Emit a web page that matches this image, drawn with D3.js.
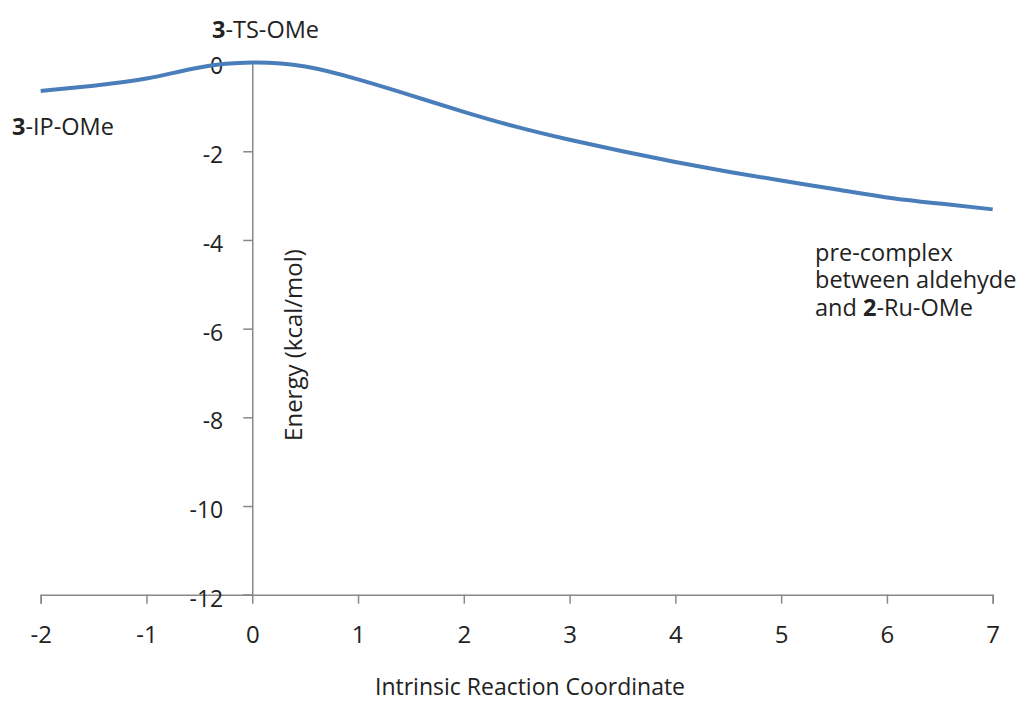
<!DOCTYPE html>
<html>
<head>
<meta charset="utf-8">
<script src="https://cdn.jsdelivr.net/npm/d3@7"></script>
<style>
  html, body { margin: 0; padding: 0; background: #fff; }
  svg { display: block; font-family: "Open Sans", "DejaVu Sans", sans-serif; }
</style>
</head>
<body>
<svg id="chart" width="1028" height="702"></svg>
<script>
// ---- data ----
const irc = [-2, -1.5, -1, -0.5, 0, 0.5, 1, 1.5, 2, 2.5, 3, 3.5, 4, 4.5, 5, 5.5, 6, 6.5, 7];
const energy = [-0.64, -0.52, -0.36, -0.11, 0, -0.09, -0.38, -0.74, -1.11, -1.45, -1.74, -2.0, -2.24, -2.46, -2.66, -2.85, -3.04, -3.18, -3.31];
const xTicks = [-2, -1, 0, 1, 2, 3, 4, 5, 6, 7];
const yTicks = [0, -2, -4, -6, -8, -10, -12];
const xTitle = "Intrinsic Reaction Coordinate";
const yTitle = "Energy (kcal/mol)";

const svg = d3.select("#chart");
const x = d3.scaleLinear().domain([-2, 7]).range([40.7, 992.7]);
const y = d3.scaleLinear().domain([-12, 0]).range([594.7, 62.6]);
const axisColor = "#888888";
const fmt = d => (d < 0 ? "-" : "") + Math.abs(d);

// x axis at y = -12
const gx = svg.append("g")
  .attr("transform", `translate(0,${y(-12)})`)
  .call(d3.axisBottom(x).tickValues(xTicks).tickFormat(fmt).tickSize(9).tickPadding(22));
gx.select(".domain").attr("stroke", axisColor).attr("stroke-width", 1.5);
gx.selectAll(".tick line").attr("stroke", axisColor).attr("stroke-width", 1.5);
gx.selectAll(".tick text").attr("font-size", 24).attr("fill", "#222")
  .attr("font-family", "'Open Sans', sans-serif");

// y axis at x = 0
const gy = svg.append("g")
  .attr("transform", `translate(${x(0)},0)`)
  .call(d3.axisLeft(y).tickValues(yTicks).tickFormat(fmt).tickSize(9).tickPadding(20));
gy.select(".domain").attr("stroke", axisColor).attr("stroke-width", 1.5);
gy.selectAll(".tick line").attr("stroke", axisColor).attr("stroke-width", 1.5);
gy.selectAll(".tick text").attr("font-size", 23).attr("fill", "#222")
  .attr("font-family", "'Open Sans', sans-serif")
  .attr("y", 4);

// curve
const line = d3.line()
  .x((d, i) => x(irc[i]))
  .y(d => y(d))
  .curve(d3.curveNatural);
svg.append("path")
  .datum(energy)
  .attr("d", line)
  .attr("fill", "none")
  .attr("stroke", "#4a7ebb")
  .attr("stroke-width", 4)
  .attr("stroke-linecap", "butt");

// titles
svg.append("text")
  .attr("x", 530).attr("y", 695)
  .attr("text-anchor", "middle")
  .attr("font-size", 23).attr("fill", "#222")
  .text(xTitle);

svg.append("text")
  .attr("transform", `translate(301.5,345) rotate(-90)`)
  .attr("text-anchor", "middle")
  .attr("font-size", 24).attr("fill", "#222")
  .text(yTitle);

// annotations
function label(xp, yp, parts) {
  const t = svg.append("text").attr("x", xp).attr("y", yp)
    .attr("font-size", 23.5).attr("fill", "#222");
  parts.forEach(p => {
    t.append("tspan").attr("font-weight", p.b ? "bold" : "normal").text(p.t);
  });
}
label(212, 38, [{t: "3", b: true}, {t: "-TS-OMe"}]);
label(12, 135, [{t: "3", b: true}, {t: "-IP-OMe"}]);
label(815, 261, [{t: "pre-complex"}]);
label(815, 288, [{t: "between aldehyde"}]);
label(815, 316, [{t: "and "}, {t: "2", b: true}, {t: "-Ru-OMe"}]);
</script>
</body>
</html>
